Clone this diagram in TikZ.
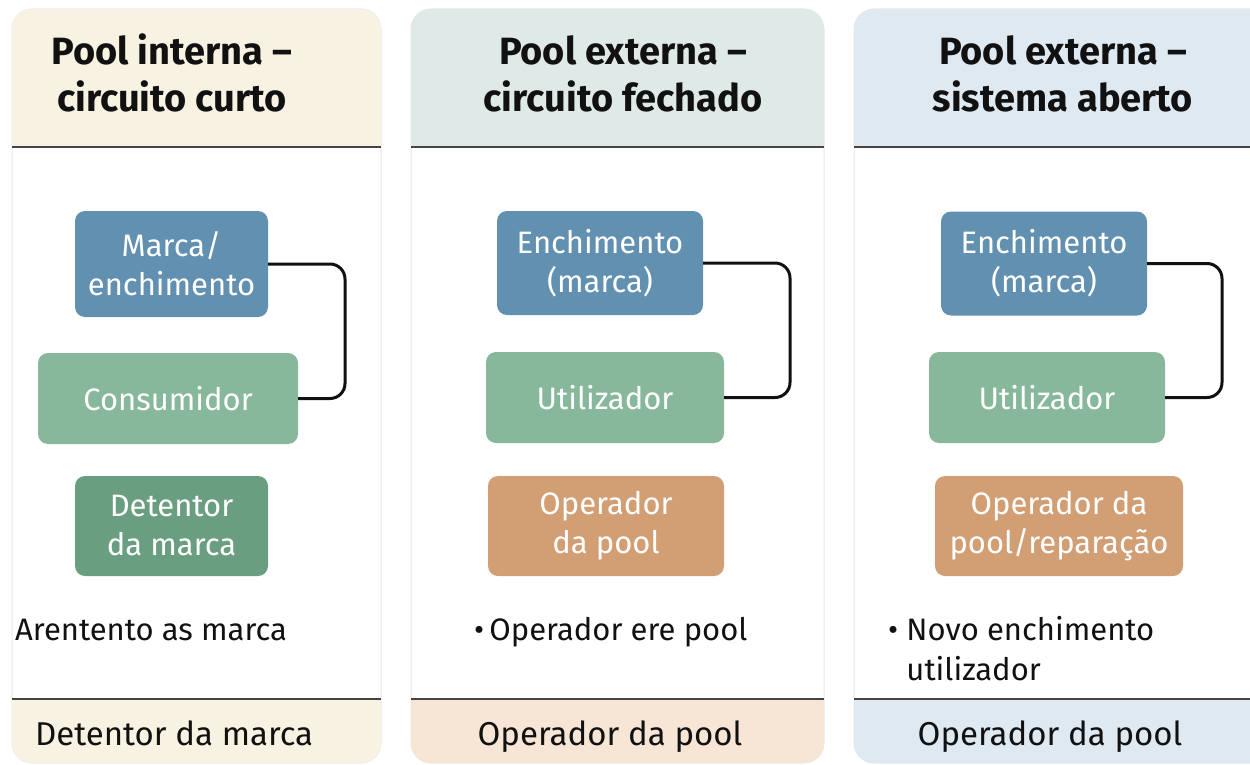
\documentclass[tikz,border=0pt]{standalone}
\usepackage{fontspec}
\setmainfont{Fira Sans}
\definecolor{hdrA}{HTML}{F8F2E2}
\definecolor{hdrB}{HTML}{DFE9E8}
\definecolor{hdrC}{HTML}{DFE9F1}
\definecolor{ftrB}{HTML}{F7E6D5}
\definecolor{boxblue}{HTML}{6190B0}
\definecolor{boxgreen}{HTML}{88B89B}
\definecolor{boxdgreen}{HTML}{6A9E80}
\definecolor{boxorange}{HTML}{D29E74}
\definecolor{panelborder}{HTML}{E9E9E9}
\definecolor{rulegray}{HTML}{444444}
\definecolor{ink}{HTML}{111111}
\tikzset{
  panel/.style={fill=white, draw=panelborder, line width=1pt, rounded corners=20pt},
  rulel/.style={draw=rulegray, line width=2pt},
  titletext/.style={font=\fontsize{38}{47}\selectfont\bfseries, text=ink, align=center, inner sep=0pt, anchor=base},
  boxbase/.style={rounded corners=10pt, text=white, align=center, inner sep=0pt,
    font=\fontsize{31}{39}\selectfont},
  bluebox/.style={boxbase, fill=boxblue},
  greenbox/.style={boxbase, fill=boxgreen},
  dgreenbox/.style={boxbase, fill=boxdgreen},
  orangebox/.style={boxbase, fill=boxorange},
  bodytext/.style={font=\fontsize{31}{40}\selectfont, text=ink, align=left, inner sep=0pt, anchor=base west},
  foottext/.style={font=\fontsize{33}{40}\selectfont, text=ink, inner sep=0pt, anchor=base},
  conn/.style={draw=ink, line width=3pt, rounded corners=15pt},
}
\begin{document}
\begin{tikzpicture}[x=1pt, y=-1pt]
\useasboundingbox (0,0) rectangle (1250,765);
\clip (0,0) rectangle (1250,765);

% ---------- panels ----------
% column 1
\path[panel] (12,9) rectangle (381,763);
\path[fill=hdrA, rounded corners=20pt] (12,147) -- (12,9) -- (381,9) -- (381,147);
\path[fill=hdrA, rounded corners=20pt] (12,699) -- (12,763) -- (381,763) -- (381,699);
\draw[rulel] (12,147) -- (381,147);
\draw[rulel] (12,699) -- (381,699);
% column 2
\path[panel] (411,9) rectangle (824,763);
\path[fill=hdrB, rounded corners=20pt] (411,147) -- (411,9) -- (824,9) -- (824,147);
\path[fill=ftrB, rounded corners=20pt] (411,699) -- (411,763) -- (824,763) -- (824,699);
\draw[rulel] (411,147) -- (824,147);
\draw[rulel] (411,699) -- (824,699);
% column 3
\path[panel, rounded corners=0pt] (854,9) [rounded corners=20pt] -- (854,763) [rounded corners=0pt] -- (1270,763) -- (1270,9) [rounded corners=20pt] -- cycle;
\path[fill=hdrC, rounded corners=20pt] (854,147) -- (854,9) [rounded corners=0pt] -- (1270,9) -- (1270,147);
\path[fill=hdrC, rounded corners=20pt] (854,699) -- (854,763) [rounded corners=0pt] -- (1270,763) -- (1270,699);
\draw[rulel] (854,147) -- (1250,147);
\draw[rulel] (854,699) -- (1250,699);

% ---------- titles ----------
\node[titletext] (t1) at (172,112) {Pool interna –\\circuito curto};
\node[titletext] (t2) at (623,112) {Pool externa –\\circuito fechado};
\node[titletext] (t3) at (1063,112) {Pool externa –\\sistema aberto};

% ---------- column 1 boxes ----------
\node[bluebox, minimum width=193pt, minimum height=106pt] (b1) at (171.5,264) {Marca/\\enchimento};
\node[greenbox, minimum width=260pt, minimum height=91pt] (c1) at (168,398.5) {Consumidor};
\node[dgreenbox, minimum width=193pt, minimum height=100pt] (d1) at (171.5,526) {Detentor\\da marca};
\coordinate (k1) at (345,330);
\draw[conn] (b1.east) -| (k1) |- (c1.east);

% ---------- column 2 boxes ----------
\node[bluebox, minimum width=206pt, minimum height=104pt] (b2) at (600,263) {Enchimento\\(marca)};
\node[greenbox, minimum width=238pt, minimum height=91pt] (c2) at (605,397.5) {Utilizador};
\node[orangebox, minimum width=236pt, minimum height=100pt] (d2) at (606,526) {Operador\\da pool};
\coordinate (k2) at (790,330);
\draw[conn] (b2.east) -| (k2) |- (c2.east);

% ---------- column 3 boxes ----------
\node[bluebox, minimum width=206pt, minimum height=104pt] (b3) at (1044,263.5) {Enchimento\\(marca)};
\node[greenbox, minimum width=236pt, minimum height=91pt] (c3) at (1047,397.5) {Utilizador};
\node[orangebox, minimum width=248pt, minimum height=100pt] (d3) at (1059,526) {Operador da\\pool/reparação};
\coordinate (k3) at (1222,330);
\draw[conn] (b3.east) -| (k3) |- (c3.east);

% ---------- body texts ----------
\node[bodytext] (n1) at (15,640) {Arentento as marca};
\node[bodytext] (n2) at (474,640) {•\,Operador ere pool};
\node[bodytext] (n3) at (888,680) {• Novo enchimento\\\hphantom{• }utilizador};

% ---------- footers ----------
\node[foottext, anchor=base west] (f1) at (35,745) {Detentor da marca};
\node[foottext] (f2) at (610,745) {Operador da pool};
\node[foottext] (f3) at (1050,745) {Operador da pool};
\end{tikzpicture}
\end{document}
